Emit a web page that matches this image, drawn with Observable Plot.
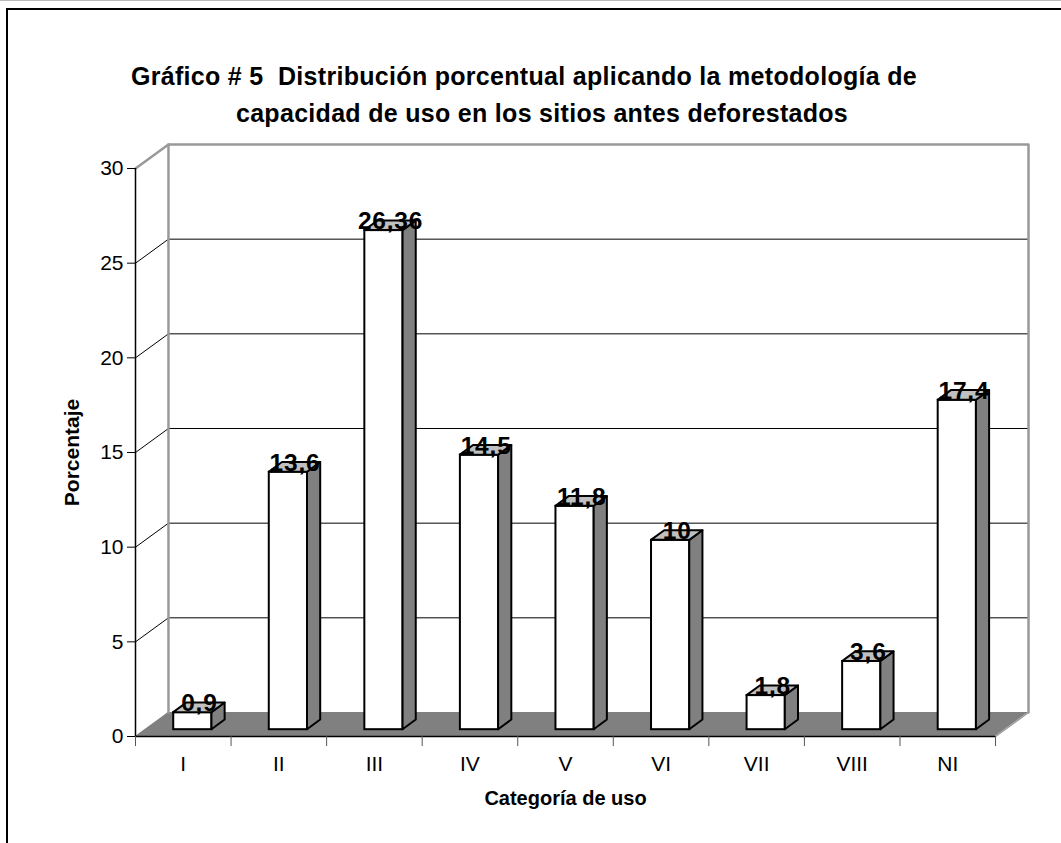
<!DOCTYPE html>
<html><head><meta charset="utf-8">
<script src="https://cdn.jsdelivr.net/npm/d3@7"></script>
<script src="https://cdn.jsdelivr.net/npm/@observablehq/plot@0.6"></script>
<style>
html,body{margin:0;padding:0;background:#fff;overflow:hidden;width:1061px;height:843px;}
#topline{position:absolute;left:0;top:0;width:1061px;height:1px;background:#bbb;}
#frame{position:absolute;left:6px;top:8px;width:2000px;height:2000px;border-left:2px solid #000;border-top:2px solid #000;pointer-events:none;z-index:2;}
#chart{position:absolute;left:0;top:0;}
g[font-size="24.5"]{letter-spacing:0.8px;}
g[font-size="25"]{letter-spacing:0.3px;}
</style></head><body>
<div id="topline"></div>
<div id="chart"></div>
<div id="frame"></div>
<script>
// ---- data ----
const categories = ["I","II","III","IV","V","VI","VII","VIII","NI"];
const values = [0.9, 13.6, 26.36, 14.5, 11.8, 10, 1.8, 3.6, 17.4];
const valueLabels = ["0,9","13,6","26,36","14,5","11,8","10","1,8","3,6","17,4"];
const yTicks = [0, 5, 10, 15, 20, 25, 30];
const titleLines = ["Gráfico # 5\u00a0 Distribución porcentual aplicando la metodología de",
                    "capacidad de uso en los sitios antes deforestados"];
const yTitle = "Porcentaje";
const xTitle = "Categoría de uso";

// ---- 3D projection constants (data units) ----
const FDX = 0.345, FDY = 1.268;   // floor / wall depth
const FX = 0.1, FY = 0.36;        // bar front face offset
const HW = 0.2;                   // bar half width
const BDX = 0.138, BDY = 0.51;    // bar depth

const n = categories.length;
const yMax = yTicks[yTicks.length - 1];
const bars = categories.map((c, i) => ({cat: c, i, v: values[i], label: valueLabels[i]}));
const xl = d => d.i + 0.5 + FX - HW;
const xr = d => d.i + 0.5 + FX + HW;
const sidePts = bars.flatMap(d => [
  {cat: d.cat, x: xr(d), y1: FY, y2: d.v + FY},
  {cat: d.cat, x: xr(d) + BDX, y1: FY + BDY, y2: d.v + FY + BDY}
]);
const topPts = bars.flatMap(d => [
  {cat: d.cat, y: d.v + FY, x1: xl(d), x2: xr(d)},
  {cat: d.cat, y: d.v + FY + BDY, x1: xl(d) + BDX, x2: xr(d) + BDX}
]);
const gridVals = yTicks.filter(t => t > 0 && t < yMax);
const floorPts = [{y: 0, x1: 0, x2: n}, {y: FDY, x1: FDX, x2: n + FDX}];

const font = "'Liberation Sans', Arial, Helvetica, sans-serif";

const chart = Plot.plot({
  width: 1061, height: 843,
  marginLeft: 135, marginRight: 33, marginTop: 144, marginBottom: 107,
  x: {type: "linear", domain: [0, n + FDX], axis: null},
  y: {type: "linear", domain: [0, yMax + FDY], axis: null},
  style: {fontFamily: font, background: "transparent", overflow: "visible", color: "#000"},
  marks: [
    // floor
    Plot.areaX(floorPts, {y: "y", x1: "x1", x2: "x2", fill: "#808080"}),
    // back wall gridlines
    Plot.ruleY(gridVals, {y: d => d + FDY, x1: FDX, x2: n + FDX, stroke: "#000", strokeWidth: 1}),
    // side wall diagonals
    Plot.link(gridVals, {x1: 0, y1: d => d, x2: FDX, y2: d => d + FDY, stroke: "#000", strokeWidth: 1}),
    // wall outlines
    Plot.line([[0, yMax], [FDX, yMax + FDY], [n + FDX, yMax + FDY], [n + FDX, FDY]], {stroke: "#999", strokeWidth: 2.5}),
    Plot.line([[FDX, FDY], [FDX, yMax + FDY]], {stroke: "#999", strokeWidth: 2.5}),
    Plot.line([[n, 0], [n + FDX, FDY]], {stroke: "#999", strokeWidth: 1.5}),
    // axes lines
    Plot.ruleX([0], {y1: 0, y2: yMax, stroke: "#000", strokeWidth: 1.5}),
    Plot.ruleY([0], {x1: 0, x2: n, stroke: "#000", strokeWidth: 1.5}),
    Plot.ruleX(d3.range(n + 1), {x: d => d, y1: 0, y2: -0.53, stroke: "#555", strokeWidth: 1}),
    Plot.axisY({ticks: yTicks, anchor: "left", tickSize: 8, tickPadding: 4, fontSize: 21, label: null}),
    Plot.axisX({ticks: d3.range(n).map(i => i + 0.5), anchor: "bottom", tickSize: 0, tickPadding: 20,
      tickFormat: d => categories[Math.floor(d)], fontSize: 21, label: null}),
    // bars
    Plot.rect(bars, {x1: xl, x2: xr, y1: FY, y2: d => d.v + FY, fill: "#fff", stroke: "#000", strokeWidth: 2}),
    Plot.areaY(sidePts, {x: "x", y1: "y1", y2: "y2", z: "cat", fill: "#808080", stroke: "#000", strokeWidth: 2}),
    Plot.areaX(topPts, {y: "y", x1: "x1", x2: "x2", z: "cat", fill: "#c0c0c0", stroke: "#000", strokeWidth: 2}),
    // value labels
    Plot.text(bars, {x: d => d.i + 0.5 + FX + BDX / 2, y: d => d.v + FY, text: "label", dy: -9,
      fontSize: 24.5, fontWeight: "bold", fill: "#000"}),
    // axis titles
    Plot.text([yTitle], {frameAnchor: "left", y: yMax / 2, dx: -63, rotate: -90, textAnchor: "middle", lineAnchor: "middle",
      fontSize: 21, fontWeight: "bold", fill: "#000"}),
    Plot.text([xTitle], {x: n / 2, frameAnchor: "bottom", dy: 62, textAnchor: "middle", lineAnchor: "middle",
      fontSize: 20, fontWeight: "bold", fill: "#000"}),
    // title
    Plot.text([titleLines[0]], {frameAnchor: "top", dx: -58, dy: -68, textAnchor: "middle", lineAnchor: "middle", fontSize: 25, fontWeight: "bold", fill: "#000"}),
    Plot.text([titleLines[1]], {frameAnchor: "top", dx: -40, dy: -31, textAnchor: "middle", lineAnchor: "middle", fontSize: 25, fontWeight: "bold", fill: "#000"})
  ]
});
document.getElementById("chart").appendChild(chart);
</script>
</body></html>
